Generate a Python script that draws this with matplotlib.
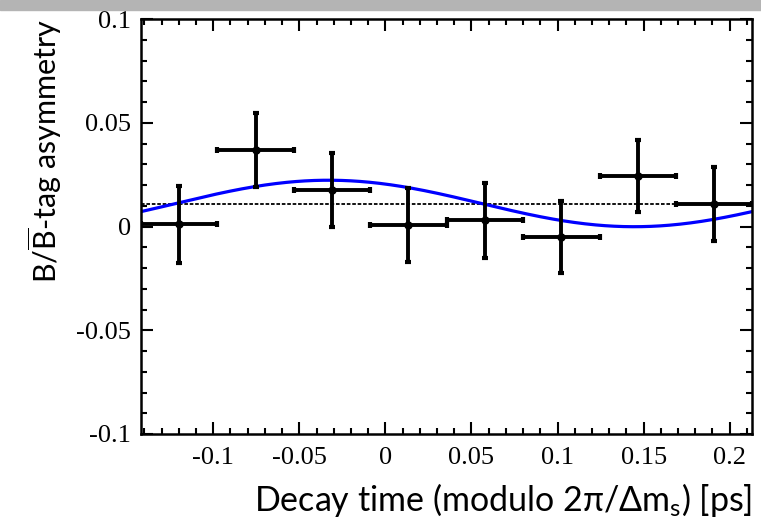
import matplotlib
matplotlib.use("Agg")
import matplotlib.pyplot as plt
import numpy as np
from matplotlib.ticker import MultipleLocator, FuncFormatter
from matplotlib.patches import Rectangle

# binned asymmetry vs decay time folded on the oscillation period
period = 0.355          # 2*pi/dm_s [ps]
t_lo, t_hi = -0.142, 0.213
bin_centers = [-0.1198, -0.0754, -0.0310, 0.0134, 0.0578, 0.1022, 0.1466, 0.1910]
bin_halfwidth = [0.0222] * 8
asym = [0.0010, 0.0369, 0.0176, 0.0007, 0.0030, -0.0051, 0.0243, 0.0108]
asym_err = [0.0185, 0.0180, 0.0180, 0.0180, 0.0180, 0.0175, 0.0173, 0.0178]
mean_level = 0.0107

# fitted oscillation: offset + amp * cos(2pi (t - t0)/period)
fit_offset = 0.0111
fit_amp = 0.0112
fit_t0 = -0.033

plt.rcParams['mathtext.fontset'] = 'custom'
plt.rcParams['mathtext.rm'] = 'Lato'
plt.rcParams['mathtext.it'] = 'Lato:italic'

fig = plt.figure(figsize=(7.61, 5.26), dpi=100)
fig.patches.append(Rectangle((0, 1 - 10 / 526), 1, 10 / 526, transform=fig.transFigure,
                             color='#b4b4b4', zorder=0))
ax = fig.add_axes([141 / 761, 92 / 526, 611 / 761, 415 / 526])

t = np.linspace(t_lo, t_hi, 400)
ax.plot(t, fit_offset + fit_amp * np.cos(2 * np.pi * (t - fit_t0) / period),
        color='#0000ff', lw=2.3, zorder=2)
ax.plot([t_lo, t_hi], [mean_level, mean_level], color='black', lw=1.3,
        linestyle=(0, (2, 1)), zorder=1)
ax.errorbar(bin_centers, asym, xerr=bin_halfwidth, yerr=asym_err, fmt='o',
            color='black', ms=5, elinewidth=2.8, capsize=2, capthick=3, zorder=3)

ax.set_xlim(t_lo, t_hi)
ax.set_ylim(-0.1, 0.1)
ax.xaxis.set_major_locator(MultipleLocator(0.05))
ax.xaxis.set_minor_locator(MultipleLocator(0.01))
ax.yaxis.set_major_locator(MultipleLocator(0.05))
ax.yaxis.set_minor_locator(MultipleLocator(0.01))
fmt = FuncFormatter(lambda v, p: '0' if abs(v) < 1e-9 else ('%g' % round(v, 3)))
ax.xaxis.set_major_formatter(fmt)
ax.yaxis.set_major_formatter(fmt)
ax.tick_params(which='both', direction='in', top=True, right=True, width=1.5)
ax.tick_params(which='major', length=8.5, labelsize=19, pad=7)
ax.tick_params(axis='x', which='major', pad=9)
ax.tick_params(which='minor', length=4.3)
for lab in ax.get_xticklabels() + ax.get_yticklabels():
    lab.set_family('Liberation Serif')
for s in ax.spines.values():
    s.set_linewidth(1.8)

ax.set_xlabel(r'Decay time (modulo 2π/Δm$_\mathrm{s}$) [ps]', family=['Lato', 'DejaVu Sans'],
              fontsize=24.5, loc='right', labelpad=9)
ax.set_ylabel(r'B/$\overline{\mathrm{B}}$-tag asymmetry', family=['Lato', 'DejaVu Sans'],
              fontsize=22, loc='top', labelpad=9)

fig.savefig('out.png', dpi=100)
